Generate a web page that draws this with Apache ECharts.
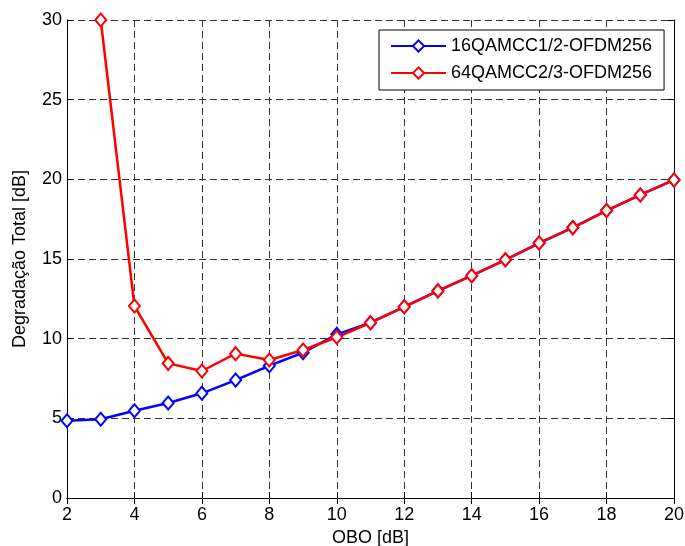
<!DOCTYPE html>
<html>
<head>
<meta charset="utf-8">
<script src="https://cdn.jsdelivr.net/npm/echarts@6/dist/echarts.min.js"></script>
<style>
  html, body { margin: 0; padding: 0; background: #fff; }
  #chart { width: 685px; height: 546px; }
</style>
</head>
<body>
<div id="chart"></div>
<script>
// Output back-off values (dB)
const obo = [2, 3, 4, 5, 6, 7, 8, 9, 10, 11, 12, 13, 14, 15, 16, 17, 18, 19, 20];
// Total degradation (dB) per scheme; null where the curve is off-scale
const deg16qam = [4.85, 4.94, 5.48, 5.96, 6.57, 7.4, 8.3, 9.12, 10.27, 11.0, 12.0, 13.0, 13.95, 14.95, 16.0, 16.97, 18.04, 19.02, 19.96];
const deg64qam = [null, 30, 12.05, 8.45, 7.97, 9.06, 8.66, 9.29, 10.09, 11.0, 12.0, 13.0, 13.95, 14.95, 16.0, 16.97, 18.04, 19.02, 19.96];
const seriesNames = ['16QAMCC1/2-OFDM256', '64QAMCC2/3-OFDM256'];
const xTicks = { min: 2, max: 20, step: 2 };
const yTicks = { min: 0, max: 30, step: 5 };

const font = "'Liberation Sans', Arial, Helvetica, sans-serif";
const fs = 18;

const pairs = (ys) => obo.map((x, i) => ys[i] == null ? null : [x, ys[i]]).filter(p => p);

const gridDash = { color: '#333', type: [7, 4], width: 1 };

function mkSeries(name, ys, color) {
  return {
    name: name,
    type: 'line',
    data: pairs(ys),
    clip: false,
    symbol: 'emptyDiamond',
    symbolSize: [11, 13],
    lineStyle: { color: color, width: 2.5 },
    itemStyle: { color: color, borderColor: color, borderWidth: 2.2 },
    emphasis: { disabled: true },
    animation: false
  };
}

const chart = echarts.init(document.getElementById('chart'), null, { renderer: 'canvas' });
chart.setOption({
  backgroundColor: '#fff',
  animation: false,
  textStyle: { fontFamily: font },
  grid: { left: 67, right: 11, top: 20, bottom: 48, containLabel: false, outerBoundsMode: 'none' },
  legend: {
    orient: 'vertical',
    left: 379,
    top: 30,
    data: seriesNames,
    itemWidth: 55,
    itemHeight: 14,
    itemGap: 9,
    padding: [7, 12, 8, 11],
    borderColor: '#000',
    borderWidth: 1,
    backgroundColor: '#fff',
    textStyle: { fontFamily: font, fontSize: fs, color: '#000', lineHeight: 18 },
    selectedMode: false
  },
  xAxis: [
    {
      type: 'value', position: 'bottom',
      min: xTicks.min, max: xTicks.max, interval: xTicks.step,
      name: 'OBO [dB]', nameLocation: 'middle', nameGap: 31,
      nameTextStyle: { fontFamily: font, fontSize: fs, color: '#000' },
      axisLine: { show: true, lineStyle: { color: '#000', width: 1 } },
      axisTick: { show: true, inside: true, length: 6, lineStyle: { color: '#000' } },
      axisLabel: { fontFamily: font, fontSize: fs, color: '#000', margin: 8 },
      splitLine: { show: true, lineStyle: gridDash }
    },
    {
      type: 'value', position: 'top',
      min: xTicks.min, max: xTicks.max, interval: xTicks.step,
      axisLine: { show: true, lineStyle: { color: '#000', width: 1 } },
      axisTick: { show: true, inside: true, length: 6, lineStyle: { color: '#000' } },
      axisLabel: { show: false },
      splitLine: { show: false }
    }
  ],
  yAxis: [
    {
      type: 'value', position: 'left',
      min: yTicks.min, max: yTicks.max, interval: yTicks.step,
      name: 'Degradação Total [dB]', nameLocation: 'middle', nameGap: 38,
      nameTextStyle: { fontFamily: font, fontSize: fs, color: '#000' },
      axisLine: { show: true, lineStyle: { color: '#000', width: 1 } },
      axisTick: { show: true, inside: true, length: 6, lineStyle: { color: '#000' } },
      axisLabel: { fontFamily: font, fontSize: fs, color: '#000', margin: 5 },
      splitLine: { show: true, lineStyle: gridDash }
    },
    {
      type: 'value', position: 'right',
      min: yTicks.min, max: yTicks.max, interval: yTicks.step,
      axisLine: { show: true, lineStyle: { color: '#000', width: 1 } },
      axisTick: { show: true, inside: true, length: 6, lineStyle: { color: '#000' } },
      axisLabel: { show: false },
      splitLine: { show: false }
    }
  ],
  series: [
    mkSeries(seriesNames[0], deg16qam, '#0000ff'),
    mkSeries(seriesNames[1], deg64qam, '#ff0000')
  ]
});
</script>
</body>
</html>
